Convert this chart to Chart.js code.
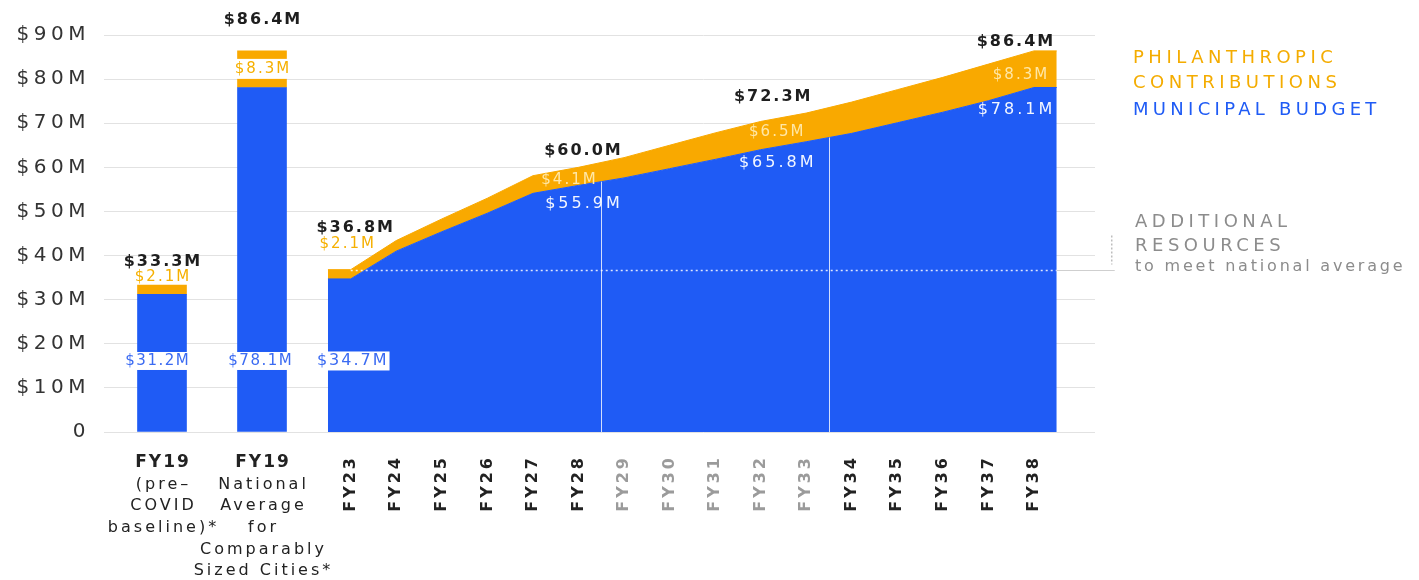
<!DOCTYPE html>
<html>
<head>
<meta charset="utf-8">
<script src="https://cdn.jsdelivr.net/npm/chart.js@4.4.1/dist/chart.umd.min.js"></script>
<style>
  html, body { margin: 0; padding: 0; background: #fff; }
  #wrap { position: relative; width: 1419px; height: 580px; overflow: hidden; }
  #left { position: absolute; left: 0; top: 0; }
  #right { position: absolute; left: 312px; top: 0; }
</style>
</head>
<body>
<div id="wrap">
  <canvas id="left" width="360" height="580"></canvas>
  <canvas id="right" width="1107" height="580"></canvas>
</div>
<script>
// ---- FY19 comparison bars ----
const barCategories = ['FY19 pre-COVID baseline', 'FY19 national average'];
const barCaptions = [
  ['FY19', '(pre–', 'COVID', 'baseline)*'],
  ['FY19', 'National', 'Average', 'for', 'Comparably', 'Sized Cities*']
];
const barMunicipal = [31.2, 78.1];
const barPhilanthropic = [2.1, 8.3];

// ---- FY23–FY38 funding path ----
const years = ['FY23', 'FY24', 'FY25', 'FY26', 'FY27', 'FY28', 'FY29', 'FY30',
               'FY31', 'FY32', 'FY33', 'FY34', 'FY35', 'FY36', 'FY37', 'FY38'];
const municipal = [34.7, 41.0, 45.4, 49.6, 54.1, 55.9, 57.6, 59.7,
                   61.8, 64.0, 65.8, 67.7, 70.1, 72.5, 75.1, 78.1];
const philanthropic = [2.1, 2.4, 2.9, 3.4, 4.0, 4.1, 4.6, 5.3,
                       6.0, 6.4, 6.5, 7.1, 7.5, 7.9, 8.3, 8.3];

// ---- value axis ----
const yTickValues = [0, 10, 20, 30, 40, 50, 60, 70, 80, 90];
const yTickLabels = ['0', '$10M', '$20M', '$30M', '$40M', '$50M', '$60M', '$70M', '$80M', '$90M'];

// ---- styling ----
const BLUE = '#1f5bf5';
const ORANGE = '#f9a900';
const INK = '#1e1e1e';
const GRID = '#e2e2e2';
const FONT = '"DejaVu Sans", "Noto Sans", sans-serif';
const INSIDE_LEVEL = 16.1;            // value height of the boxed municipal labels
Chart.defaults.font.family = FONT;

const money = v => '$' + v.toFixed(1) + 'M';

function drawText(ctx, s, x, y, o) {
  ctx.save();
  const sp = o.spacing || 0;
  ctx.font = o.font;
  ctx.letterSpacing = sp + 'px';
  ctx.textAlign = o.align || 'center';
  ctx.textBaseline = o.baseline || 'middle';
  const shift = ctx.textAlign === 'center' ? sp / 2 : (ctx.textAlign === 'right' ? sp : 0);
  if (o.box) {
    const w = ctx.measureText(s).width - sp;
    const left = ctx.textAlign === 'center' ? x - w / 2 : (ctx.textAlign === 'right' ? x - w : x);
    const pad = o.boxPad || 3;
    ctx.fillStyle = o.box;
    ctx.fillRect(left - pad, y - o.boxH / 2, w + pad * 2, o.boxH);
  }
  ctx.fillStyle = o.color;
  ctx.fillText(s, x + shift, y);
  ctx.restore();
}

// wide tracking for the text that Chart.js draws itself (tick labels)
const tracking = px => ({
  id: 'tracking',
  beforeLayout(chart) { chart.ctx.letterSpacing = px + 'px'; },
  beforeDraw(chart) { chart.ctx.letterSpacing = px + 'px'; }
});

const yAxis = show => ({
  stacked: true,
  min: 0,
  max: 90,
  afterBuildTicks: s => { s.ticks = yTickValues.map(v => ({ value: v })); },
  ticks: { display: show, padding: 14, color: '#333', font: { size: 20 },
           callback: (v, i) => yTickLabels[i] },
  grid: { color: GRID, lineWidth: 1, drawTicks: show, tickLength: 8 },
  border: { display: false },
  afterFit: s => { s.width = show ? 112 : 0; }
});

const TOTAL_STYLE = { font: 'bold 16px ' + FONT, spacing: 2, color: INK };

// ---- left chart: FY19 stacked bars ----
const barLabelLayout = [
  { total: [0, -23], phil: [0, -8], philBox: false, muniDx: -5 },
  { total: [0, -31], phil: [0, 18], philBox: true, muniDx: -2 }
];

const barLabels = {
  id: 'barLabels',
  afterDatasetsDraw(chart) {
    const { ctx, scales: { x: xs, y: ys } } = chart;
    const insideY = ys.getPixelForValue(INSIDE_LEVEL);
    barMunicipal.forEach((m, i) => {
      const p = barPhilanthropic[i];
      const L = barLabelLayout[i];
      const x = xs.getPixelForValue(i);
      const topY = ys.getPixelForValue(m + p);
      drawText(ctx, money(m + p), x + L.total[0], topY + L.total[1], TOTAL_STYLE);
      drawText(ctx, money(p), x + L.phil[0], topY + L.phil[1],
        { font: '15px ' + FONT, spacing: 2, color: '#f6b000',
          box: L.philBox ? '#fff' : null, boxH: 20, boxPad: 5 });
      drawText(ctx, money(m), x + L.muniDx, insideY,
        { font: '15px ' + FONT, spacing: 1.5, color: '#3b6bf2', box: '#fff', boxH: 18, boxPad: 2 });
    });
  },
  afterDraw(chart) {
    const { ctx, scales: { x: xs } } = chart;
    barCaptions.forEach((lines, i) => {
      const x = xs.getPixelForValue(i);
      lines.forEach((t, j) => {
        drawText(ctx, t, x, xs.top + 31 + j * 21.6, {
          font: (j === 0 ? 'bold 17px ' : '16px ') + FONT,
          spacing: j === 0 ? 2 : 3,
          color: '#222'
        });
      });
    });
  }
};

new Chart(document.getElementById('left'), {
  type: 'bar',
  data: {
    labels: barCategories,
    datasets: [
      { label: 'Municipal budget', data: barMunicipal, backgroundColor: BLUE, barThickness: 49 },
      { label: 'Philanthropic contributions', data: barPhilanthropic, backgroundColor: ORANGE, barThickness: 49 }
    ]
  },
  options: {
    responsive: false,
    animation: false,
    events: [],
    layout: { padding: { top: 35, right: 48, left: 0, bottom: 0 } },
    plugins: { legend: { display: false }, tooltip: { enabled: false } },
    scales: {
      x: {
        stacked: true,
        ticks: { display: false },
        grid: { display: false, drawTicks: false },
        border: { display: false },
        afterFit: s => { s.height = 148; }
      },
      y: yAxis(true)
    }
  },
  plugins: [tracking(4.5), barLabels]
});

// ---- right chart: stacked area FY23–FY38 ----
// each year sits at its index; the fill is held flat for half a step at both ends
const toPoints = arr => [
  { x: -0.5, y: arr[0] },
  ...arr.map((v, i) => ({ x: i, y: v })),
  { x: arr.length - 0.5, y: arr[arr.length - 1] }
];

const areaLabelLayout = {
  0:  { total: [4, -42],   phil: [-4, -26],  muni: [1, null] },
  5:  { total: [4, -16],   phil: [-10, 13],  muni: [4, 18] },
  10: { total: [-34, -16], phil: [-30, 19],  muni: [-30, 21] },
  15: { total: [-19, -9],  phil: [-14, 24],  muni: [-19, 22] }
};
const dividers = [5.5, 10.5];
const mutedTick = i => i > 5 && i <= 10;

const areaDecor = {
  id: 'areaDecor',
  afterDatasetsDraw(chart) {
    const { ctx, scales: { x: xs, y: ys } } = chart;
    const muniPts = chart.getDatasetMeta(0).data;

    // thin white dividers between the three planning periods
    ctx.save();
    ctx.strokeStyle = 'rgba(255,255,255,0.8)';
    ctx.lineWidth = 1;
    dividers.forEach(v => {
      const x = Math.round(xs.getPixelForValue(v)) + 0.5;
      const k = Math.floor(v) + 1;
      const yTop = (muniPts[k].y + muniPts[k + 1].y) / 2;
      ctx.beginPath();
      ctx.moveTo(x, yTop);
      ctx.lineTo(x, ys.bottom);
      ctx.stroke();
    });
    ctx.restore();

    // FY23 level carried across the projection
    const lvl = Math.round(ys.getPixelForValue(municipal[0] + philanthropic[0])) + 0.5;
    const xEnd = xs.getPixelForValue(years.length - 0.5);
    ctx.save();
    ctx.strokeStyle = 'rgba(255,255,255,0.85)';
    ctx.lineWidth = 1.5;
    ctx.setLineDash([2, 3]);
    ctx.beginPath();
    ctx.moveTo(xs.getPixelForValue(0), lvl);
    ctx.lineTo(xEnd, lvl);
    ctx.stroke();
    ctx.setLineDash([]);
    ctx.strokeStyle = '#cfcfcf';
    ctx.lineWidth = 1;
    ctx.beginPath();
    ctx.moveTo(xEnd, lvl);
    ctx.lineTo(xEnd + 58, lvl);
    ctx.stroke();
    ctx.setLineDash([2, 2]);
    ctx.strokeStyle = '#bdbdbd';
    ctx.lineWidth = 1.5;
    ctx.beginPath();
    ctx.moveTo(xEnd + 55, lvl - 35);
    ctx.lineTo(xEnd + 55, lvl - 6);
    ctx.stroke();
    ctx.restore();

    // value labels at the milestone years
    const insideY = ys.getPixelForValue(INSIDE_LEVEL);
    Object.keys(areaLabelLayout).forEach(key => {
      const i = Number(key);
      const L = areaLabelLayout[i];
      const m = municipal[i], p = philanthropic[i];
      const x = xs.getPixelForValue(i);
      const totY = ys.getPixelForValue(m + p);
      const muniY = ys.getPixelForValue(m);
      drawText(ctx, money(m + p), x + L.total[0], totY + L.total[1], TOTAL_STYLE);
      if (i === 0) {
        drawText(ctx, money(p), x + L.phil[0], totY + L.phil[1],
          { font: '15px ' + FONT, spacing: 2, color: '#f6b000' });
        drawText(ctx, money(m), x + L.muni[0], insideY,
          { font: '16px ' + FONT, spacing: 2, color: '#3b6bf2', box: '#fff', boxH: 19, boxPad: 3 });
      } else {
        drawText(ctx, money(p), x + L.phil[0], totY + L.phil[1],
          { font: '15px ' + FONT, spacing: 2, color: '#ffe7a6' });
        drawText(ctx, money(m), x + L.muni[0], muniY + L.muni[1],
          { font: '16px ' + FONT, spacing: 3, color: '#f2f6ff' });
      }
    });
  },
  afterDraw(chart) {
    const { ctx } = chart;
    const lx = 821;
    const caps = { font: '18px ' + FONT, spacing: 4.5, align: 'left', baseline: 'alphabetic' };
    drawText(ctx, 'PHILANTHROPIC', lx, 63, { ...caps, color: '#f4ac00' });
    drawText(ctx, 'CONTRIBUTIONS', lx, 88, { ...caps, color: '#f4ac00' });
    drawText(ctx, 'MUNICIPAL BUDGET', lx, 115, { ...caps, spacing: 4.3, color: BLUE });
    drawText(ctx, 'ADDITIONAL', lx + 2, 227, { ...caps, color: '#8c8c8c' });
    drawText(ctx, 'RESOURCES', lx + 2, 251, { ...caps, color: '#8c8c8c' });
    drawText(ctx, 'to meet national average', lx + 2, 271,
      { font: '16px ' + FONT, spacing: 2.8, align: 'left', baseline: 'alphabetic', color: '#8c8c8c' });
  }
};

new Chart(document.getElementById('right'), {
  type: 'line',
  data: {
    datasets: [
      { label: 'Municipal budget', data: toPoints(municipal), backgroundColor: BLUE, borderColor: BLUE,
        borderWidth: 1, fill: 'origin', pointRadius: 0, tension: 0 },
      { label: 'Philanthropic contributions', data: toPoints(philanthropic), backgroundColor: ORANGE, borderColor: ORANGE,
        borderWidth: 1, fill: '-1', pointRadius: 0, tension: 0 }
    ]
  },
  options: {
    responsive: false,
    animation: false,
    events: [],
    layout: { padding: { top: 35, right: 324, left: 0, bottom: 0 } },
    plugins: { legend: { display: false }, tooltip: { enabled: false } },
    scales: {
      x: {
        type: 'linear',
        min: -0.85,
        max: 16.34,
        afterBuildTicks: s => { s.ticks = years.map((_, i) => ({ value: i })); },
        ticks: {
          autoSkip: false,
          minRotation: 90,
          maxRotation: 90,
          padding: 23,
          font: { size: 16, weight: 'bold' },
          color: c => mutedTick(c.index) ? '#9b9b9b' : '#222',
          callback: (v, i) => years[i]
        },
        grid: { display: false, drawTicks: false },
        border: { display: false },
        afterFit: s => { s.height = 148; }
      },
      y: yAxis(false)
    }
  },
  plugins: [tracking(3), areaDecor]
});
</script>
</body>
</html>
